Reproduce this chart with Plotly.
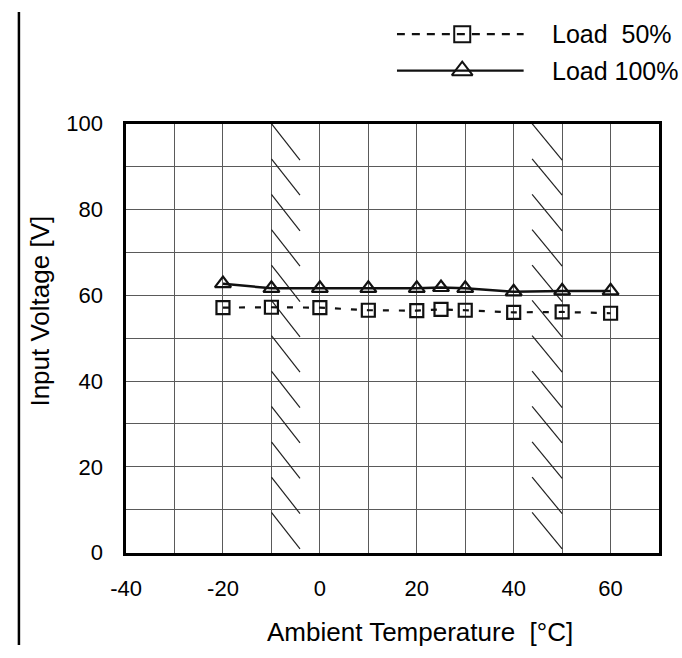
import plotly.graph_objects as go

# ---- data ----
temperature = [-20, -10, 0, 10, 20, 25, 30, 40, 50, 60]
load_50 = [57.1, 57.2, 57.1, 56.5, 56.4, 56.7, 56.5, 56.0, 56.1, 55.8]
load_100 = [62.7, 61.6, 61.6, 61.6, 61.6, 61.8, 61.6, 60.8, 61.0, 61.0]

x_tick_vals = [-40, -20, 0, 20, 40, 60]
x_tick_text = ["-40", "-20", "0", "20", "40", "60"]
y_tick_vals = [0, 20, 40, 60, 80, 100]
y_tick_text = ["0", "20", "40", "60", "80", "100"]

series_names = ["Load\u00a0 50%", "Load 100%"]
x_title = "Ambient Temperature\u00a0 [°C]"
y_title = "Input Voltage [V]"

# hatched (excluded) temperature bands: stroke x start/end and stroke top values
hatch_left_x = [-10, -4.1]
hatch_right_x = [43.8, 50]
hatch_tops = [100, 91.8, 83.5, 75.3, 67.0, 58.8, 50.6, 42.3, 34.1, 25.8, 17.6, 9.4]
hatch_drop = 8.5

FONT = "Liberation Sans, Arial, sans-serif"
INK = "#111111"

W, H = 682, 658


def px_x(p):
    return p / W


def px_y(p):
    return 1 - p / H


fig = go.Figure()


def hatch_trace(xs):
    hx, hy = [], []
    for top in hatch_tops:
        hx += [xs[0], xs[1], None]
        hy += [top, top - hatch_drop, None]
    return go.Scatter(x=hx, y=hy, mode="lines", line=dict(color="#222222", width=1.2),
                      showlegend=False, hoverinfo="skip")


fig.add_trace(hatch_trace(hatch_left_x))
fig.add_trace(hatch_trace(hatch_right_x))

fig.add_trace(go.Scatter(
    x=temperature, y=load_50, mode="lines+markers", name=series_names[0],
    line=dict(color=INK, width=2.2, dash="6px,10px"),
    marker=dict(symbol="square-open", size=13, color=INK, line=dict(width=2.2, color=INK)),
    showlegend=False, cliponaxis=False))
fig.add_trace(go.Scatter(
    x=temperature, y=load_100, mode="lines+markers", name=series_names[1],
    line=dict(color=INK, width=2.5),
    marker=dict(symbol="triangle-up-open", size=14, color=INK, line=dict(width=2.2, color=INK)),
    showlegend=False, cliponaxis=False))

# ---- hand-made legend on its own small axes ----
fig.add_trace(go.Scatter(
    x=[0, 0.515, 1], y=[1, 1, 1], xaxis="x2", yaxis="y2", mode="lines",
    line=dict(color=INK, width=2.2, dash="8px,7px"), showlegend=False, hoverinfo="skip"))
fig.add_trace(go.Scatter(
    x=[0.515], y=[1], xaxis="x2", yaxis="y2", mode="markers",
    marker=dict(symbol="square-open", size=16, color=INK, line=dict(width=2, color=INK)),
    showlegend=False, hoverinfo="skip", cliponaxis=False))
fig.add_trace(go.Scatter(
    x=[0, 1], y=[0, 0], xaxis="x2", yaxis="y2", mode="lines",
    line=dict(color=INK, width=2.2), showlegend=False, hoverinfo="skip"))
fig.add_trace(go.Scatter(
    x=[0.515], y=[0], xaxis="x2", yaxis="y2", mode="markers",
    marker=dict(symbol="triangle-up-open", size=18, color=INK, line=dict(width=2, color=INK)),
    showlegend=False, hoverinfo="skip", cliponaxis=False))

grid_col = "#5a5a5a"

fig.update_layout(
    width=W, height=H,
    margin=dict(l=0, r=0, t=0, b=0),
    paper_bgcolor="white", plot_bgcolor="white",
    font=dict(family=FONT, color="black", size=22),
    xaxis=dict(
        domain=[px_x(112.7), px_x(658.5)], range=[-40, 70],
        tickmode="array", tickvals=x_tick_vals, ticktext=x_tick_text,
        showgrid=True, gridcolor=grid_col, gridwidth=1,
        minor=dict(tick0=-40, dtick=10, showgrid=True, gridcolor=grid_col, gridwidth=1),
        showline=True, linecolor="black", linewidth=2.5, mirror=True,
        ticks="", ticklabelstandoff=14, zeroline=False,
        tickfont=dict(size=22, family=FONT, color="black"),
    ),
    yaxis=dict(
        domain=[px_y(562), px_y(116)], range=[0, 100],
        tickmode="array", tickvals=y_tick_vals, ticktext=y_tick_text,
        showgrid=True, gridcolor=grid_col, gridwidth=1,
        minor=dict(tick0=0, dtick=10, showgrid=True, gridcolor=grid_col, gridwidth=1),
        showline=True, linecolor="black", linewidth=2.5, mirror=True,
        ticks="", ticklabelstandoff=16, zeroline=False,
        tickfont=dict(size=22, family=FONT, color="black"),
    ),
    xaxis2=dict(domain=[px_x(390), px_x(520)], range=[0, 1], visible=False, fixedrange=True,
                anchor="y2"),
    yaxis2=dict(domain=[px_y(80), px_y(4)], range=[-0.5, 1.5], visible=False, fixedrange=True,
                anchor="x2"),
    showlegend=False,
    annotations=[
        dict(text=series_names[0], x=px_x(547), y=px_y(23), xref="paper", yref="paper",
             xanchor="left", yanchor="middle", showarrow=False, font=dict(size=25)),
        dict(text=series_names[1], x=px_x(547), y=px_y(61), xref="paper", yref="paper",
             xanchor="left", yanchor="middle", showarrow=False, font=dict(size=25)),
        dict(text=x_title, x=px_x(414), y=px_y(645), xref="paper", yref="paper",
             xanchor="center", yanchor="middle", showarrow=False, font=dict(size=26)),
        dict(text=y_title, x=px_x(25), y=px_y(311), xref="paper", yref="paper",
             xanchor="center", yanchor="middle", showarrow=False, textangle=-90,
             font=dict(size=26)),
    ],
    shapes=[
        dict(type="line", xref="paper", yref="paper", x0=px_x(3), x1=px_x(3), y0=0, y1=1,
             line=dict(color="black", width=2.5)),
    ],
)

fig.write_html("out.html", config={"displayModeBar": False},
               post_script="document.body.style.margin='0';")
